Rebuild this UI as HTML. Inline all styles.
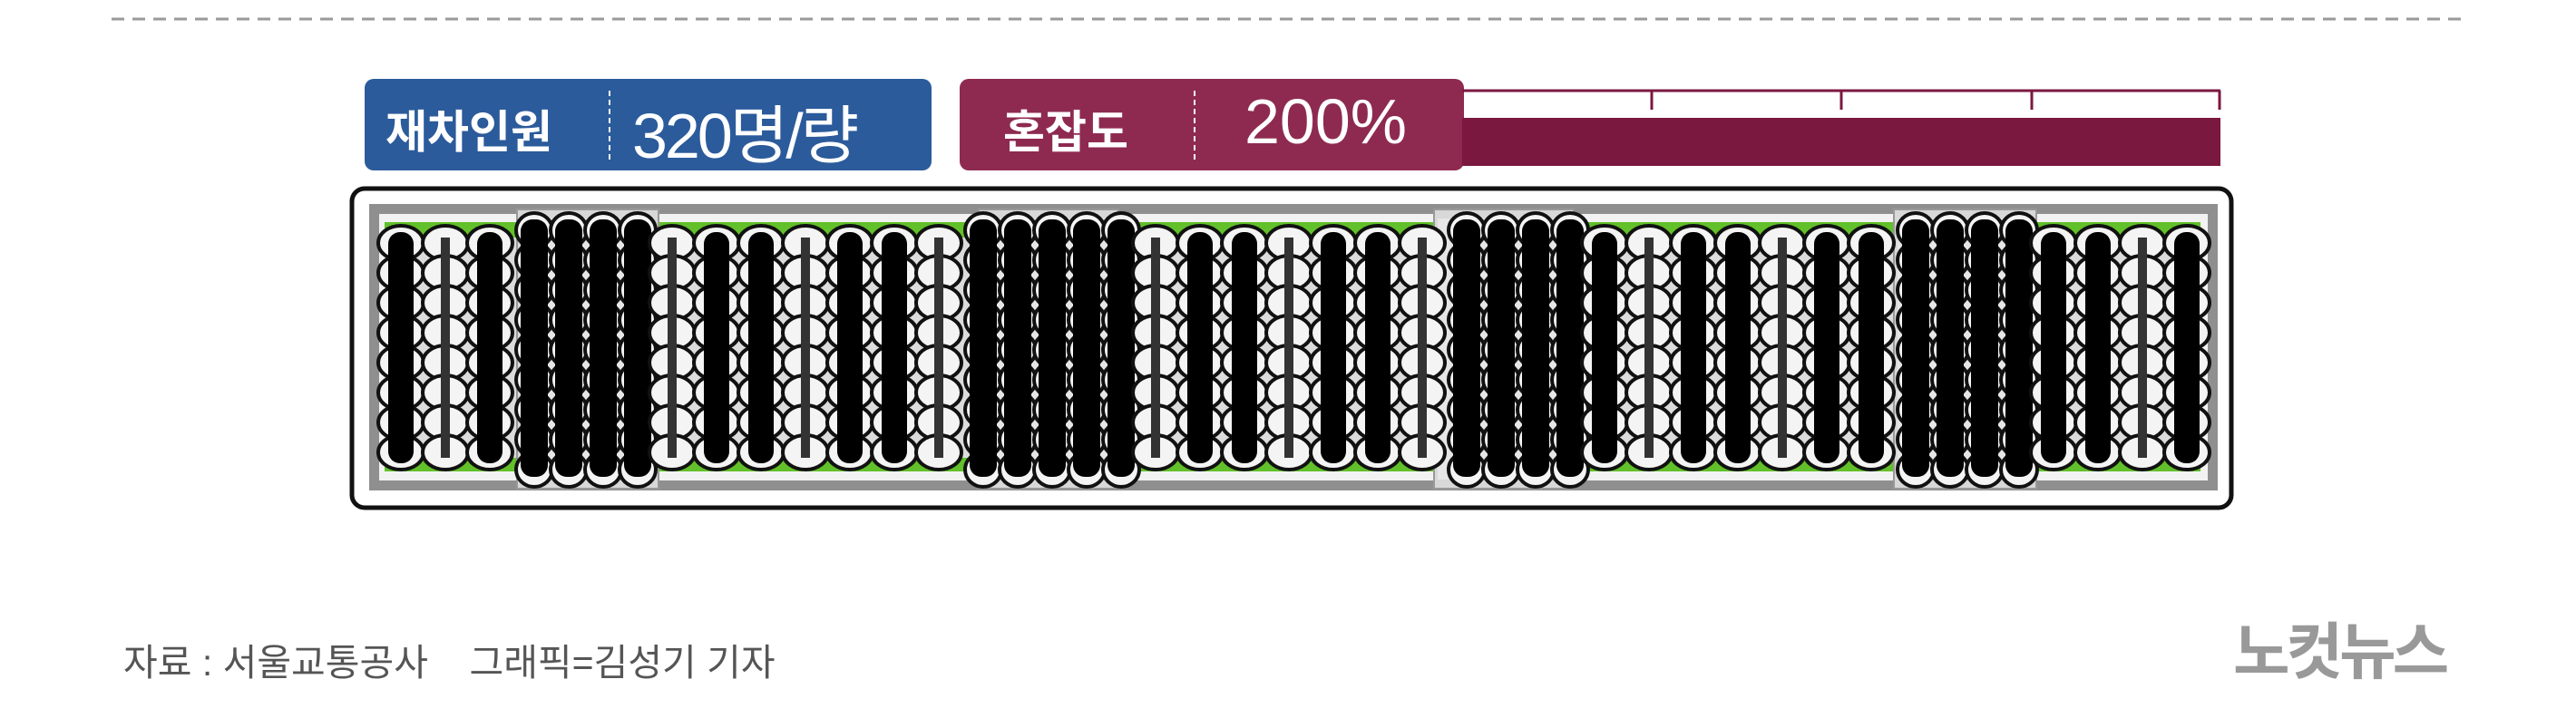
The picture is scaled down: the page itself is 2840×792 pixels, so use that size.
<!DOCTYPE html>
<html><head><meta charset="utf-8"><style>
html,body{margin:0;padding:0;background:#fff;}
body{width:2840px;height:792px;position:relative;overflow:hidden;font-family:"Liberation Sans","Noto Sans CJK KR",sans-serif;}
.t{position:absolute;white-space:nowrap;}
</style></head><body>
<svg id="s" width="2840" height="792" style="position:absolute;left:0;top:0" xmlns="http://www.w3.org/2000/svg">
<line x1="123" y1="21" x2="2717" y2="21" stroke="#9a9a9a" stroke-width="3" stroke-dasharray="14 9"/>
<rect x="402" y="87" width="625" height="101" rx="10" fill="#2b5b9b"/>
<line x1="672" y1="100" x2="672" y2="176" stroke="#fff" stroke-width="2" stroke-dasharray="6 4"/>
<rect x="1058" y="87" width="556" height="101" rx="10" fill="#8e2a50"/>
<line x1="1317" y1="100" x2="1317" y2="176" stroke="#fff" stroke-width="2" stroke-dasharray="6 4"/>
<rect x="1612" y="130" width="836" height="53" fill="#7b1840"/>
<line x1="1612" y1="100" x2="2448" y2="100" stroke="#7b1840" stroke-width="3"/>
<g stroke="#7b1840" stroke-width="3"><line x1="1821" y1="100" x2="1821" y2="121"/><line x1="2030" y1="100" x2="2030" y2="121"/><line x1="2240" y1="100" x2="2240" y2="121"/><line x1="2447" y1="100" x2="2447" y2="121"/></g>
<rect x="388" y="208" width="2072" height="352" rx="14" fill="#fff" stroke="#111" stroke-width="5"/>
<rect x="407" y="225" width="2038" height="316" fill="#8f8f8f"/>
<rect x="418" y="236" width="2016" height="294" fill="#f2f2f2"/>
<rect x="424" y="245" width="2002" height="275" fill="#62c02a"/>
<rect x="424" y="262" width="2002" height="243" fill="#dcdcdc"/>
<g id="doors"></g>
<g id="pax"></g>
</svg>
<div class="t" style="left:425px;top:106px;font-size:50px;color:#fff;font-weight:bold;">재차인원</div>
<div class="t" style="left:697px;top:94px;font-size:70px;color:#fff;letter-spacing:-3px;">320명/량</div>
<div class="t" style="left:1106px;top:106px;font-size:50px;color:#fff;font-weight:bold;">혼잡도</div>
<div class="t" style="left:1372px;top:94px;font-size:70px;color:#fff;">200%</div>
<div class="t" style="left:136px;top:697px;font-size:41px;color:#555;">자료 : 서울교통공사 &nbsp;&nbsp;&nbsp;그래픽=김성기 기자</div>
<div class="t" style="left:2462px;top:664px;font-size:68px;color:#999;font-weight:bold;letter-spacing:-4px;">노컷뉴스</div>
<script>
var NS="http://www.w3.org/2000/svg";
function el(p,n,a){var e=document.createElementNS(NS,n);for(var k in a)e.setAttribute(k,a[k]);p.appendChild(e);return e;}
var doors=[[570,726],[1079,1233],[1581,1735],[2088,2245]];
var dg=document.getElementById('doors');
doors.forEach(function(d){el(dg,'rect',{x:d[0],y:231,width:d[1]-d[0],height:308,fill:'#d8d8d8',stroke:'#999','stroke-width':2});el(dg,'rect',{x:d[0]+4,y:241,width:d[1]-d[0]-8,height:288,fill:'#e6e6e6'});});
var pg=document.getElementById('pax');
var cols=[];
var x=442;
while(x<2425){
  var inDoor=doors.some(function(d){return x>=d[0]-5&&x<=d[1]+5;});
  cols.push([x,inDoor]);
  x+= inDoor?38:49;
}
cols.forEach(function(c,i){
  var cx=c[0],y0=c[1]?238:252,y1=c[1]?530:515;
  for(var y=y0+16;y<y1;y+=33){el(pg,'ellipse',{cx:cx,cy:y,rx:c[1]?20:25,ry:19,fill:'#f4f4f4',stroke:'#111','stroke-width':4});}
  var dark=c[1]||(i%3!=1);
  if(dark){el(pg,'rect',{x:cx-(c[1]?15:14),y:y0+4,width:c[1]?30:28,height:y1-y0-8,rx:13,fill:'#000'});}
  else{el(pg,'rect',{x:cx-5,y:y0+10,width:10,height:y1-y0-20,fill:'#333'});}
});
</script>
</body></html>
